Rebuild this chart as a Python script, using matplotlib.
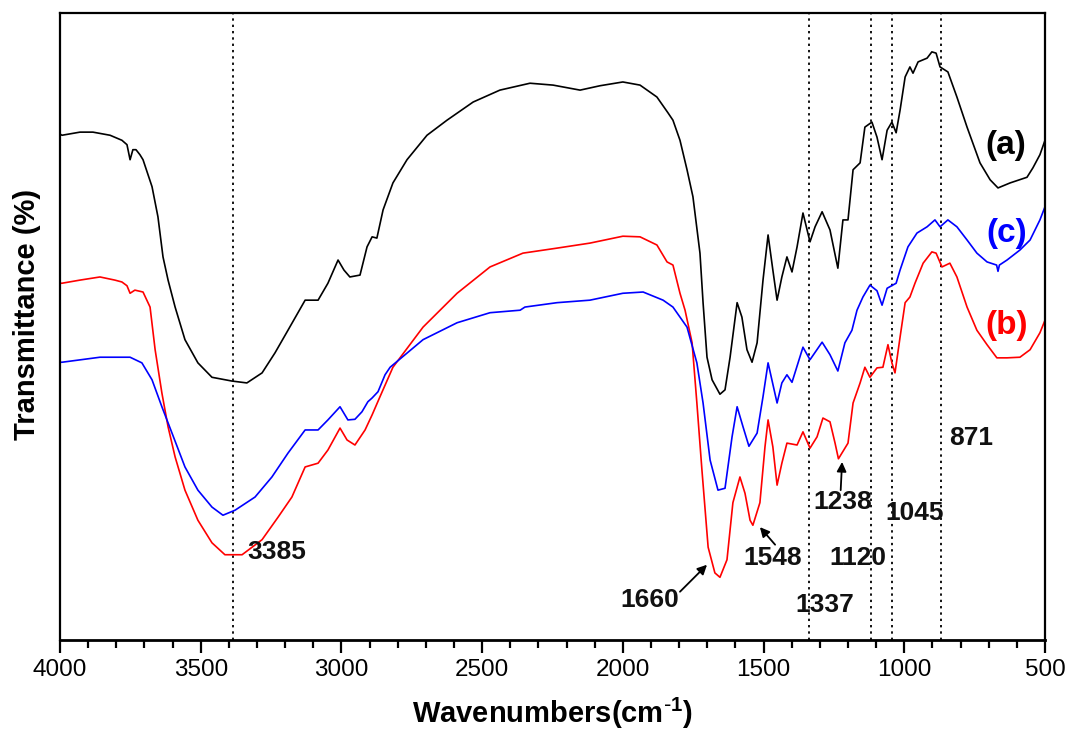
import matplotlib
matplotlib.use("Agg")
import matplotlib.pyplot as plt
from matplotlib.ticker import MultipleLocator

plt.rcParams['font.family'] = ['Liberation Sans', 'DejaVu Sans']
plt.rcParams['mathtext.default'] = 'regular'

# ---------------- data ----------------
# (a) black
wn_a = [4000, 3993, 3929, 3883, 3822, 3780, 3762, 3751, 3741, 3730,
        3716, 3705, 3673, 3652, 3634, 3616, 3591, 3556, 3510, 3460,
        3389, 3336, 3282, 3236, 3190, 3129, 3083, 3048, 3012, 2991,
        2970, 2934, 2909, 2891, 2874, 2852, 2817, 2767, 2696, 2625,
        2532, 2437, 2330, 2248, 2152, 2081, 2000, 1939, 1879, 1840,
        1822, 1797, 1772, 1751, 1726, 1715, 1701, 1683, 1655, 1637,
        1619, 1594, 1577, 1559, 1541, 1523, 1502, 1484, 1467, 1452,
        1435, 1417, 1399, 1381, 1360, 1335, 1317, 1292, 1264, 1236,
        1218, 1200, 1182, 1157, 1140, 1115, 1097, 1079, 1061, 1044,
        1029, 1015, 997, 980, 969, 951, 919, 902, 887, 873,
        845, 813, 777, 731, 695, 667, 624, 564, 543, 518,
        500]
T_a = [80.7, 80.5, 81.0, 81.0, 80.5, 79.7, 79.0, 76.6, 78.2, 78.2,
       77.4, 76.6, 72.3, 67.5, 61.1, 57.4, 53.1, 47.9, 44.2, 41.9,
       41.3, 41.0, 42.6, 45.8, 49.4, 54.2, 54.2, 56.9, 60.6, 59.0,
       57.9, 58.2, 62.7, 64.3, 64.1, 68.6, 72.9, 76.6, 80.5, 82.9,
       85.8, 87.7, 88.8, 88.5, 87.7, 88.4, 89.0, 88.5, 86.6, 84.1,
       82.9, 79.7, 75.0, 70.7, 61.7, 53.8, 45.1, 41.5, 39.2, 39.9,
       45.1, 53.8, 51.5, 46.3, 44.3, 47.4, 57.4, 64.6, 59.0, 54.2,
       57.9, 61.1, 58.7, 62.7, 68.1, 63.5, 65.9, 68.3, 65.4, 59.3,
       67.0, 67.0, 75.0, 76.1, 81.8, 82.6, 80.2, 76.6, 81.3, 82.6,
       80.9, 84.5, 89.8, 91.4, 90.4, 92.2, 92.8, 93.8, 93.6, 91.4,
       90.6, 86.6, 81.8, 76.1, 73.4, 72.1, 72.9, 73.8, 75.3, 77.4,
       79.7]

# (c) blue
wn_c = [4000, 3993, 3858, 3751, 3709, 3673, 3638, 3602, 3556, 3510,
        3460, 3421, 3378, 3307, 3247, 3190, 3129, 3083, 3048, 3005,
        2977, 2952, 2927, 2906, 2891, 2870, 2845, 2827, 2710, 2589,
        2472, 2365, 2348, 2234, 2117, 2000, 1928, 1857, 1822, 1772,
        1737, 1715, 1690, 1662, 1637, 1612, 1594, 1573, 1552, 1523,
        1502, 1484, 1452, 1435, 1417, 1399, 1360, 1335, 1292, 1264,
        1236, 1211, 1186, 1168, 1147, 1122, 1097, 1079, 1061, 1029,
        1015, 987, 955, 919, 891, 873, 845, 813, 777, 742,
        706, 672, 667, 662, 635, 589, 553, 518, 500]
T_c = [44.3, 44.3, 45.1, 45.1, 44.2, 41.5, 37.2, 33.0, 27.6, 23.9,
       21.2, 19.9, 20.7, 22.8, 26.0, 29.8, 33.5, 33.5, 35.1, 37.2,
       35.1, 35.2, 36.4, 38.0, 38.6, 39.6, 42.3, 43.5, 47.9, 50.6,
       52.2, 52.6, 53.1, 53.8, 54.2, 55.3, 55.5, 54.2, 53.1, 49.9,
       44.2, 37.8, 28.7, 23.9, 24.2, 32.4, 37.2, 34.0, 30.9, 33.0,
       38.8, 44.2, 37.8, 41.0, 42.3, 41.1, 46.7, 44.7, 47.5, 45.5,
       42.9, 47.4, 49.4, 52.6, 54.7, 56.6, 55.7, 53.4, 56.1, 56.9,
       59.0, 62.7, 64.9, 65.9, 67.0, 65.9, 67.0, 65.9, 63.8, 61.7,
       60.3, 59.8, 58.8, 59.8, 60.6, 62.2, 63.8, 67.0, 69.1]

# (b) red
wn_b = [4000, 3993, 3929, 3858, 3805, 3780, 3762, 3751, 3734, 3705,
        3680, 3662, 3638, 3616, 3591, 3556, 3510, 3460, 3414, 3353,
        3282, 3225, 3176, 3129, 3083, 3048, 3005, 2980, 2952, 2916,
        2891, 2863, 2817, 2710, 2589, 2472, 2355, 2234, 2117, 2000,
        1939, 1879, 1843, 1822, 1797, 1779, 1754, 1737, 1719, 1697,
        1673, 1655, 1630, 1609, 1584, 1566, 1548, 1538, 1513, 1495,
        1484, 1467, 1452, 1435, 1417, 1381, 1360, 1335, 1310, 1289,
        1264, 1246, 1234, 1200, 1182, 1157, 1140, 1122, 1097, 1076,
        1058, 1044, 1033, 1015, 997, 980, 962, 933, 902, 887,
        866, 838, 813, 777, 742, 706, 671, 635, 589, 553,
        518, 500]
T_b = [56.9, 56.9, 57.4, 57.9, 57.4, 57.1, 56.5, 55.3, 55.8, 55.5,
       53.1, 46.3, 39.4, 34.0, 29.2, 23.9, 19.1, 15.5, 13.6, 13.6,
       16.0, 19.6, 22.8, 27.6, 28.2, 30.3, 33.8, 31.9, 31.1, 33.5,
       35.9, 38.8, 43.5, 49.9, 55.3, 59.5, 61.7, 62.5, 63.3, 64.4,
       64.3, 63.0, 60.3, 59.8, 55.3, 52.6, 47.4, 37.8, 27.1, 14.8,
       10.7, 10.0, 12.8, 21.9, 26.0, 23.4, 19.1, 18.3, 21.9, 30.8,
       35.1, 30.8, 24.7, 28.2, 31.4, 31.1, 33.2, 30.6, 32.4, 35.4,
       34.8, 31.4, 28.9, 31.4, 37.8, 41.0, 43.5, 41.9, 43.4, 43.5,
       47.1, 44.2, 42.6, 48.3, 53.8, 54.7, 56.9, 60.1, 61.9, 61.7,
       59.5, 60.1, 57.9, 53.1, 49.4, 47.1, 45.0, 45.0, 45.1, 46.3,
       49.0, 51.0]

marker_lines = [3385, 1337, 1120, 1045, 871]
peak_labels = ["3385", "1660", "1548", "1238", "1120", "1337", "1045", "871"]
series_labels = ["(a)", "(b)", "(c)"]

# ---------------- figure ----------------
W, H = 1070, 731
fig = plt.figure(figsize=(W / 100, H / 100), dpi=100)
ax = fig.add_axes([60 / W, 1 - 640 / H, 985 / W, 627 / H])

ax.plot(wn_a, T_a, color='black', lw=1.2)
ax.plot(wn_b, T_b, color='#ff0000', lw=1.2)
ax.plot(wn_c, T_c, color='#0000ff', lw=1.2)

for v in marker_lines:
    ax.axvline(v, color='black', lw=1.3, ls=(0, (1.3, 2.2)), zorder=0)

ax.set_xlim(4000, 500)
ax.set_ylim(0, 100)

for s in ax.spines.values():
    s.set_linewidth(1.6)
ax.spines['bottom'].set_linewidth(2.0)

ax.xaxis.set_major_locator(MultipleLocator(500))
ax.xaxis.set_minor_locator(MultipleLocator(100))
ax.tick_params(axis='x', which='major', direction='out', length=9, width=1.6,
               pad=4.5, labelsize=17.5, top=False, color='black')
ax.tick_params(axis='x', which='minor', direction='out', length=5.5, width=1.6,
               top=False, bottom=True, color='black')
ax.tick_params(axis='y', which='both', left=False, right=False, labelleft=False)

ax.set_xlabel(r'Wavenumbers(cm$^{\text{-}1}$)', fontsize=21, fontweight='bold')
ax.xaxis.label.set_va('center')
ax.xaxis.set_label_coords(0.5, (640 - 713) / 627)
ax.set_ylabel('Transmittance (%)', fontsize=21, fontweight='bold')
ax.yaxis.label.set_va('center')
ax.yaxis.set_label_coords((27 - 60) / 985, (640 - 314) / 627)

fs_lab = 19
tk = dict(fontsize=fs_lab, fontweight='bold', color='#111111')
arr = dict(arrowstyle='-|>', color='black', lw=1.3, mutation_scale=14, shrinkA=0, shrinkB=0)

ax.text(3336, 14.0, peak_labels[0], ha='left', va='center', **tk)
ax.text(1801, 6.4, peak_labels[1], ha='right', va='center', **tk)
ax.annotate('', xy=(1701, 12.0), xytext=(1797, 7.7), arrowprops=arr)
ax.text(1467, 13.0, peak_labels[2], ha='center', va='center', **tk)
ax.annotate('', xy=(1513, 18.0), xytext=(1459, 15.2), arrowprops=arr)
ax.text(1218, 22.0, peak_labels[3], ha='center', va='center', **tk)
ax.annotate('', xy=(1221, 28.4), xytext=(1226, 23.9), arrowprops=arr)
ax.text(1164, 13.0, peak_labels[4], ha='center', va='center', **tk)
ax.text(1282, 5.6, peak_labels[5], ha='center', va='center', **tk)
ax.text(962, 20.3, peak_labels[6], ha='center', va='center', **tk)
ax.text(763, 32.2, peak_labels[7], ha='center', va='center', **tk)

ax.text(639, 78.8, series_labels[0], ha='center', va='center', fontsize=24,
        fontweight='bold', color='black')
ax.text(635, 50.1, series_labels[1], ha='center', va='center', fontsize=24,
        fontweight='bold', color='#ff0000')
ax.text(635, 64.9, series_labels[2], ha='center', va='center', fontsize=24,
        fontweight='bold', color='#0000ff')

fig.savefig('out.png', dpi=100)
